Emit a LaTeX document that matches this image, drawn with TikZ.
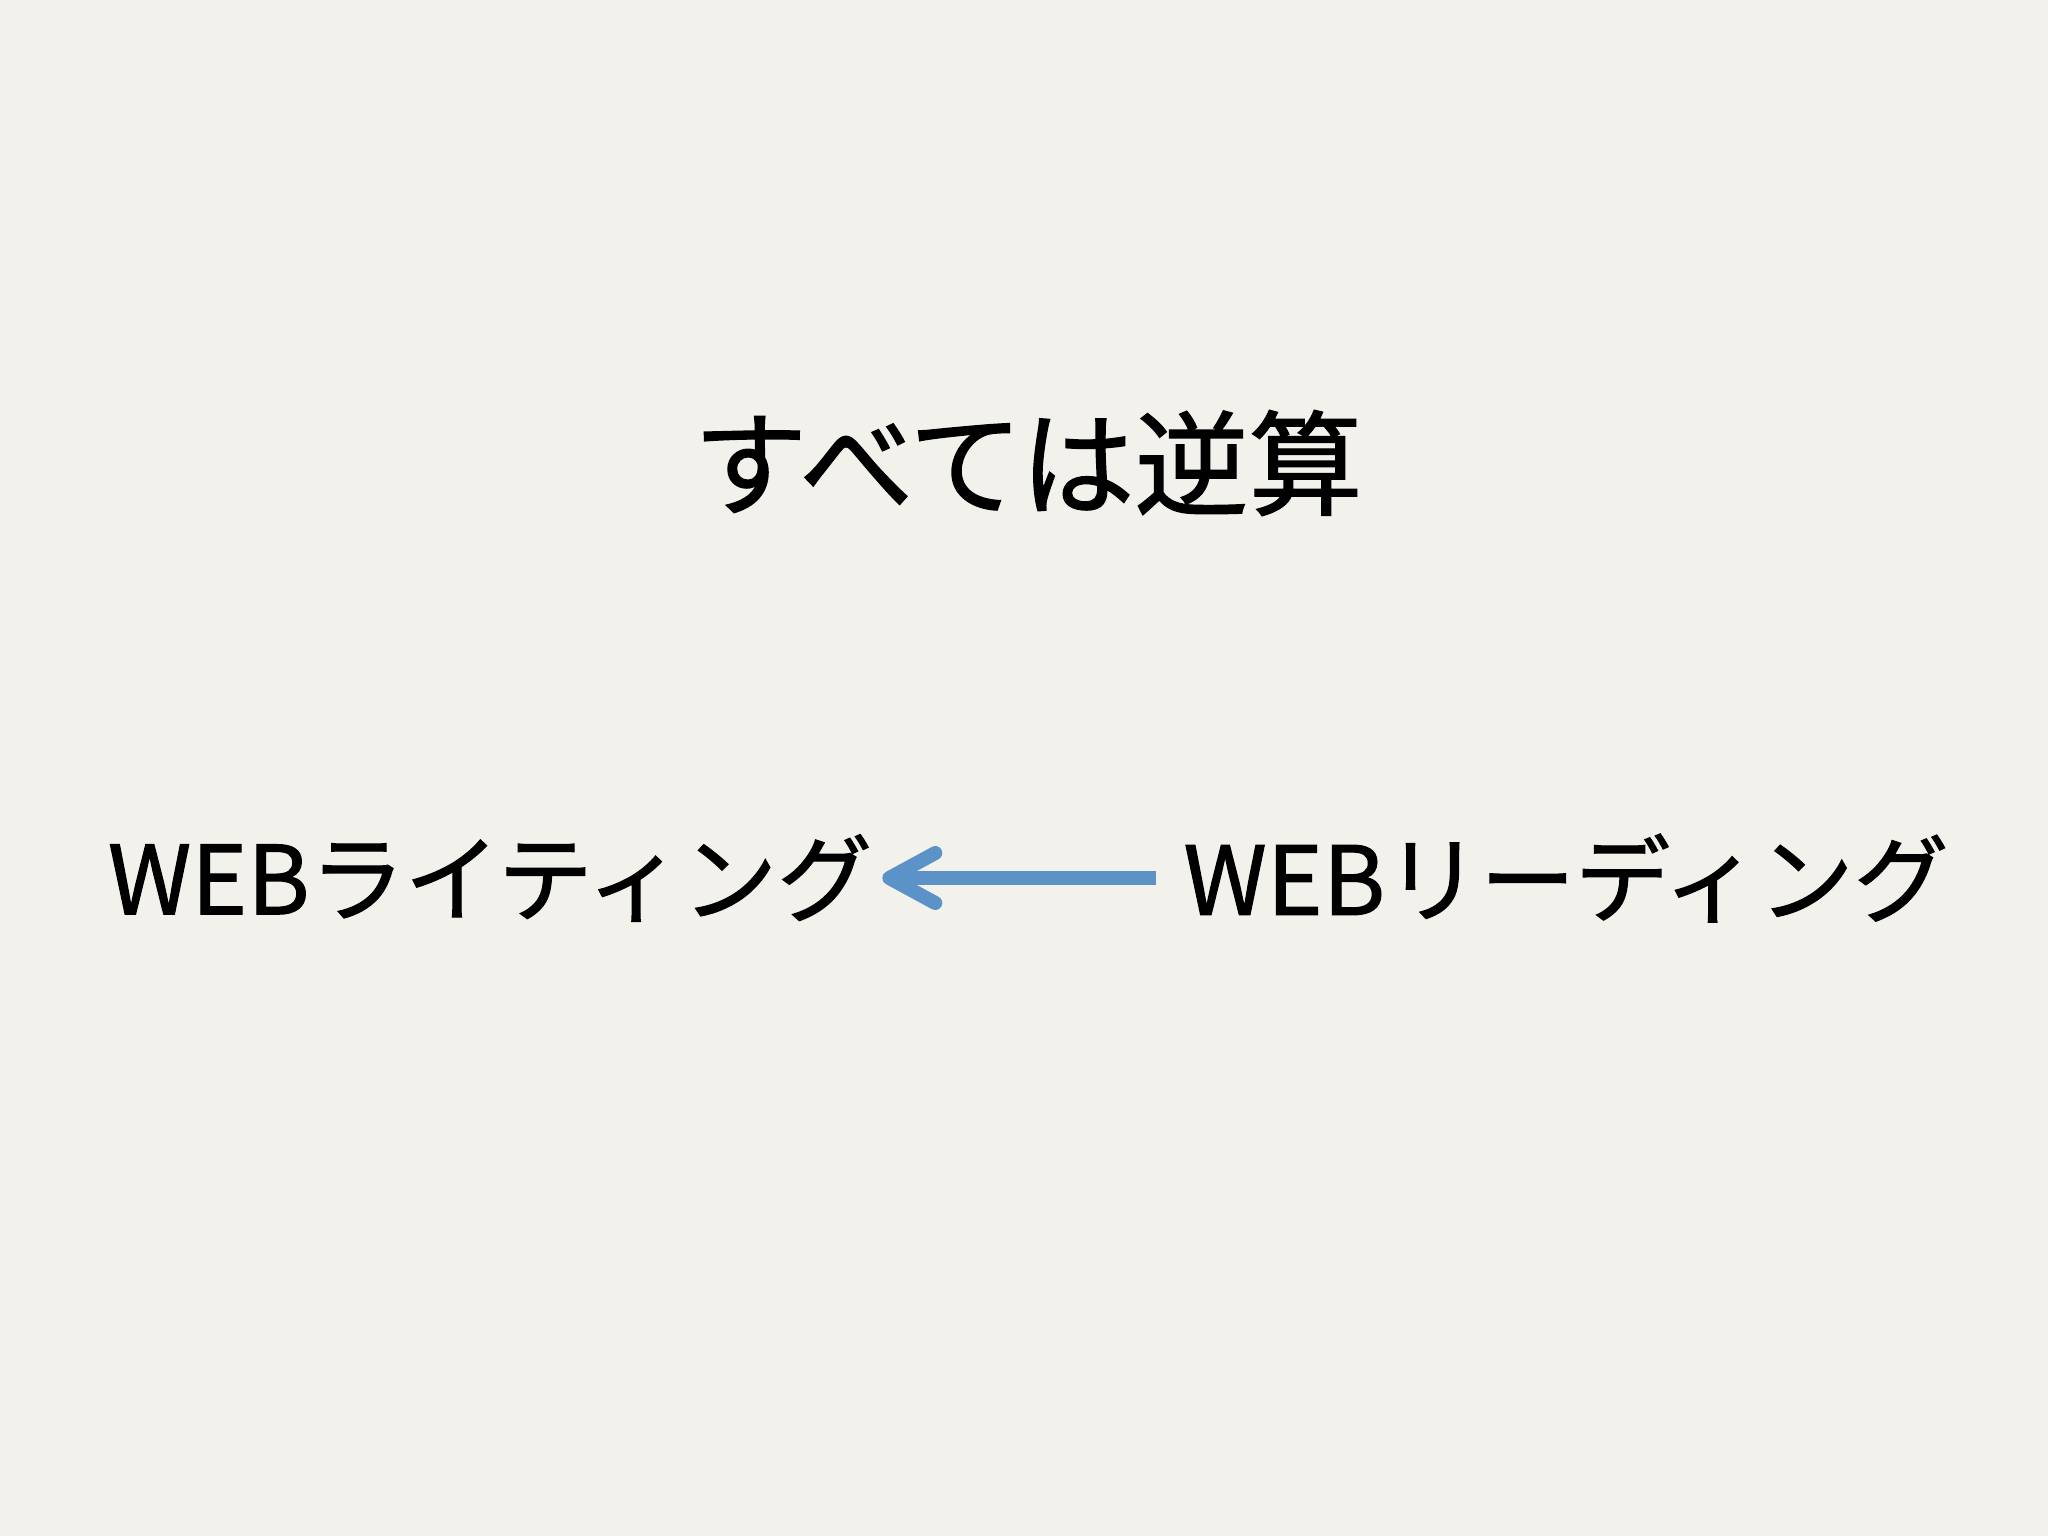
\documentclass[tikz,border=0pt]{standalone}
\usepackage{fontspec}
\usepackage{xcolor}
\usetikzlibrary{arrows.meta}
\newfontfamily\jpfont{Noto Sans CJK JP}[FakeBold=1.2]
\definecolor{bgpaper}{RGB}{242,241,235}
\definecolor{arrowblue}{RGB}{91,147,201}

\begin{document}
\begin{tikzpicture}[x=1pt,y=1pt,yscale=-1,xscale=1,
    titletext/.style={inner sep=0pt,font=\jpfont\fontsize{114}{124}\selectfont},
    wordtext/.style={inner sep=0pt,font=\jpfont\fontsize{95}{105}\selectfont},
    backarrow/.style={draw=arrowblue,line width=14pt,line cap=butt,
        -{Straight Barb[length=46pt 0 0,width=50pt 0 0,round]}}]
    % background
    \fill [bgpaper] (0,0) rectangle (2048,1536);
    \useasboundingbox (0,0) rectangle (2048,1536);

    % Text Node
    \node [titletext] (gyakusan) at (1028,463) {すべては逆算};
    % Text Node
    \node [wordtext] (writing) at (490,878) {WEBライティング};
    % Text Node
    \node [wordtext] (reading) at (1566,878) {WEBリーディング};

    % Arrow
    \draw [backarrow,shorten <=27pt,shorten >=10pt] (reading.west) -- (writing.east);

\end{tikzpicture}
\end{document}
